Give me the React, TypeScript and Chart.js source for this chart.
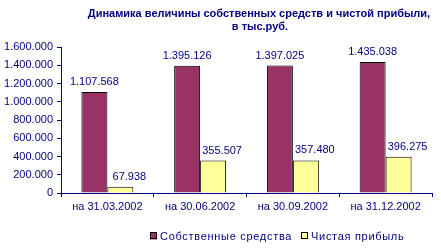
import React, { useEffect, useRef } from "react";
import { Chart, registerables } from "chart.js";

Chart.register(...registerables);

const categories = ["на 31.03.2002", "на 30.06.2002", "на 30.09.2002", "на 31.12.2002"];
const equityValues = [1107568, 1395126, 1397025, 1435038];
const profitValues = [67938, 355507, 357480, 396275];
const seriesNames = ["Собственные средства", "Чистая прибыль"];
const seriesColors = ["#993366", "#FFFF99"];
const titleLines = ["Динамика величины собственных средств и чистой прибыли,", "в тыс.руб."];

const NAVY = "#000080";
const FONT = "'Liberation Sans', Arial, sans-serif";

const fmt = (v: number) => String(Math.round(v)).replace(/\B(?=(\d{3})+(?!\d))/g, ".");

const titlePlugin = {
  id: "customTitle",
  afterDraw(chart: any) {
    const ctx = chart.ctx;
    ctx.save();
    ctx.font = `bold 11px ${FONT}`;
    ctx.fillStyle = NAVY;
    ctx.textAlign = "center";
    ctx.textBaseline = "middle";
    ctx.fillText(titleLines[0], 259, 14);
    ctx.fillText(titleLines[1], 260, 27);
    ctx.restore();
  },
};

const labelPlugin = {
  id: "valueLabels",
  afterDatasetsDraw(chart: any) {
    const ctx = chart.ctx;
    ctx.save();
    ctx.font = `11px ${FONT}`;
    ctx.fillStyle = NAVY;
    ctx.textAlign = "center";
    ctx.textBaseline = "alphabetic";
    chart.data.datasets.forEach((ds: any, di: number) => {
      const meta = chart.getDatasetMeta(di);
      meta.data.forEach((el: any, i: number) => {
        const dx = di === 1 ? 9 : 0;
        ctx.fillText(fmt(ds.data[i]), el.x + dx, el.y - 7);
      });
    });
    ctx.restore();
  },
};

const legendPlugin = {
  id: "customLegend",
  afterDraw(chart: any) {
    const ctx = chart.ctx;
    ctx.save();
    ctx.font = `11px ${FONT}`;
    (ctx as any).letterSpacing = "0.7px";
    ctx.textBaseline = "middle";
    ctx.textAlign = "left";
    const y = 236;
    const xs = [150, 301];
    seriesNames.forEach((name, i) => {
      const x = xs[i];
      ctx.fillStyle = seriesColors[i];
      ctx.fillRect(x, y - 3.5, 7, 7);
      ctx.strokeStyle = "#000000";
      ctx.lineWidth = 1;
      ctx.strokeRect(x + 0.5, y - 3.5, 6, 6);
      ctx.fillStyle = NAVY;
      ctx.fillText(name, x + 10, y + 0.5);
    });
    ctx.restore();
  },
};

export default function App() {
  const ref = useRef<HTMLCanvasElement>(null);
  useEffect(() => {
    if (!ref.current) return;
    const chart = new Chart(ref.current, {
      type: "bar",
      data: {
        labels: categories,
        datasets: [
          {
            label: seriesNames[0],
            data: equityValues,
            backgroundColor: seriesColors[0],
            borderColor: "#000000",
            borderWidth: 1,
            categoryPercentage: 0.56,
            barPercentage: 1,
          },
          {
            label: seriesNames[1],
            data: profitValues,
            backgroundColor: seriesColors[1],
            borderColor: "#000000",
            borderWidth: 1,
            categoryPercentage: 0.56,
            barPercentage: 1,
          },
        ],
      },
      options: {
        animation: false,
        responsive: false,
        maintainAspectRatio: false,
        layout: { padding: { left: 0, right: 9, top: 47, bottom: 27 } },
        plugins: {
          legend: { display: false },
          title: { display: false },
          tooltip: { enabled: false },
        },
        scales: {
          x: {
            offset: true,
            afterFit: (s: any) => {
              s.height = 30;
            },
            grid: {
              offset: true,
              drawOnChartArea: false,
              drawTicks: true,
              tickLength: 4,
              color: NAVY,
            },
            border: { display: true, color: NAVY, width: 1 },
            ticks: {
              color: NAVY,
              font: { family: FONT, size: 11 },
              padding: 3,
              maxRotation: 0,
              autoSkip: false,
            },
          },
          y: {
            min: 0,
            max: 1600000,
            afterFit: (s: any) => {
              s.width = 61;
            },
            grid: {
              drawOnChartArea: false,
              drawTicks: true,
              tickLength: 4,
              color: NAVY,
            },
            border: { display: true, color: NAVY, width: 1 },
            ticks: {
              stepSize: 200000,
              color: NAVY,
              padding: 4,
              font: { family: FONT, size: 11 },
              callback: (v: any) => fmt(Number(v)),
            },
          },
        },
      },
      plugins: [titlePlugin, labelPlugin, legendPlugin],
    });
    return () => chart.destroy();
  }, []);
  return (
    <div style={{ position: "absolute", left: 0, top: 0, width: 441, height: 250, background: "#fff" }}>
      <canvas ref={ref} width={441} height={250} style={{ width: 441, height: 250 }} />
    </div>
  );
}
